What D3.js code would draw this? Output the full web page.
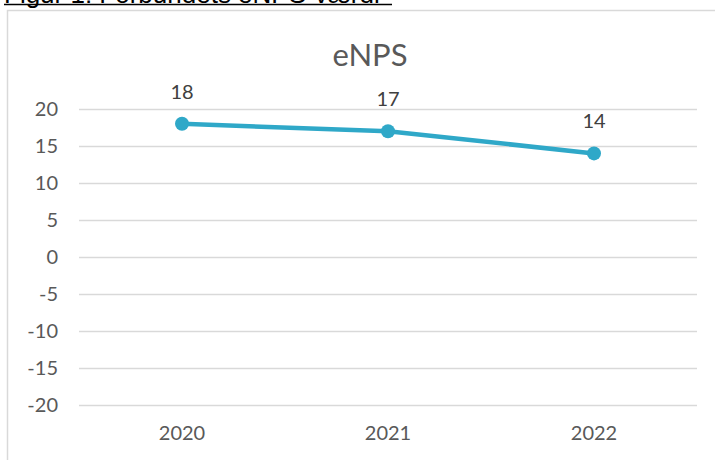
<!DOCTYPE html>
<html>
<head>
<meta charset="utf-8">
<script src="https://cdn.jsdelivr.net/npm/d3@7"></script>
<style>
  body { margin: 0; background: #fff; }
  svg { display: block; font-family: Lato, "Open Sans", sans-serif; }
</style>
</head>
<body>
<div id="root"></div>
<script>
const years = ["2020", "2021", "2022"];
const enps = [18, 17, 14];
const yTicks = [-20, -15, -10, -5, 0, 5, 10, 15, 20];
const chartTitle = "eNPS";
const caption = "Figur 1: Forbundets eNPS-værdi";

const W = 715, H = 460;
const margin = { top: 109, right: 18, bottom: 55, left: 79 };

const svg = d3.select("#root").append("svg")
  .attr("width", W)
  .attr("height", H);

// caption above the chart, partly clipped by the top edge like in the source
svg.append("text")
  .attr("x", 4)
  .attr("y", 3)
  .attr("font-family", "Liberation Sans, Arial, sans-serif")
  .attr("font-size", 26)
  .attr("fill", "#000")
  .text(caption);
svg.append("line")
  .attr("x1", 4).attr("x2", 392)
  .attr("y1", 4.5).attr("y2", 4.5)
  .attr("stroke", "#000")
  .attr("stroke-width", 1.5);

// chart area frame
svg.append("rect")
  .attr("x", 7.5).attr("y", 10.5)
  .attr("width", W + 20).attr("height", H + 20)
  .attr("fill", "none")
  .attr("stroke", "#d9d9d9")
  .attr("stroke-width", 1.5);

const x = d3.scaleBand()
  .domain(years)
  .range([margin.left, W - margin.right]);

const y = d3.scaleLinear()
  .domain([-20, 20])
  .range([H - margin.bottom, margin.top]);

// gridlines + y labels
const yAxis = d3.axisLeft(y)
  .tickValues(yTicks)
  .tickFormat(d => String(d))
  .tickSize(-(W - margin.right - margin.left))
  .tickPadding(21);

svg.append("g")
  .attr("class", "y-axis")
  .attr("transform", `translate(${margin.left}, 0)`)
  .call(yAxis)
  .call(g => g.select(".domain").remove())
  .call(g => g.selectAll(".tick line").attr("stroke", "#d9d9d9").attr("stroke-width", 1.3))
  .call(g => g.selectAll(".tick text")
    .attr("fill", "#595959")
    .attr("font-size", 20)
    .attr("font-family", "Lato, sans-serif"));

// x labels
const xAxis = d3.axisBottom(x).tickSize(0).tickPadding(21);
svg.append("g")
  .attr("class", "x-axis")
  .attr("transform", `translate(0, ${H - margin.bottom})`)
  .call(xAxis)
  .call(g => g.select(".domain").remove())
  .call(g => g.selectAll(".tick text")
    .attr("fill", "#595959")
    .attr("font-size", 20)
    .attr("font-family", "Lato, sans-serif"));

// title
svg.append("text")
  .attr("x", 370)
  .attr("y", 66)
  .attr("text-anchor", "middle")
  .attr("fill", "#595959")
  .attr("font-size", 31)
  .text(chartTitle);

const data = years.map((yr, i) => ({ year: yr, value: enps[i] }));
const cx = d => x(d.year) + x.bandwidth() / 2;

const line = d3.line()
  .x(cx)
  .y(d => y(d.value));

svg.append("path")
  .datum(data)
  .attr("fill", "none")
  .attr("stroke", "#2fa8c8")
  .attr("stroke-width", 4.5)
  .attr("stroke-linejoin", "round")
  .attr("d", line);

svg.selectAll(".dot").data(data).enter().append("circle")
  .attr("class", "dot")
  .attr("cx", cx)
  .attr("cy", d => y(d.value))
  .attr("r", 7)
  .attr("fill", "#2fa8c8");

svg.selectAll(".val").data(data).enter().append("text")
  .attr("class", "val")
  .attr("x", cx)
  .attr("y", d => y(d.value) - 25)
  .attr("text-anchor", "middle")
  .attr("fill", "#404040")
  .attr("font-size", 20)
  .text(d => d.value);
</script>
</body>
</html>
